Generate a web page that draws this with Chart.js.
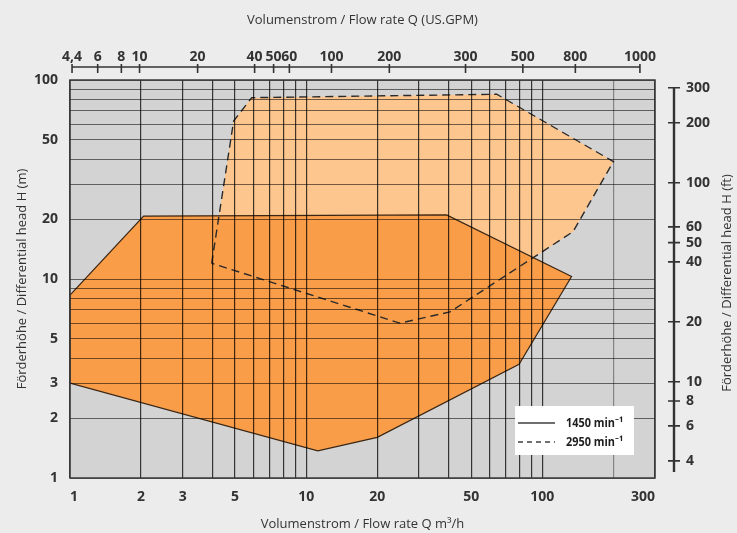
<!DOCTYPE html>
<html>
<head>
<meta charset="utf-8">
<script src="https://cdn.jsdelivr.net/npm/chart.js@4.4.1/dist/chart.umd.min.js"></script>
<style>
html,body{margin:0;padding:0;background:#ececec;}
canvas{display:block;}
</style>
</head>
<body>
<canvas id="c" width="737" height="533"></canvas>
<script>
// ---------------- data ----------------
// Operating envelope at 1450 min^-1 : flow Q (m³/h) and head H (m), polygon vertices
const q1450 = [1.0, 2.05, 39.3, 133, 79.7, 20.0, 11.2, 1.0];
const h1450 = [8.3, 20.7, 21.0, 10.3, 3.73, 1.60, 1.37, 3.0];
// Operating envelope at 2950 min^-1
const q2950 = [3.98, 4.93, 5.88, 64.1, 200, 135, 40.6, 24.9];
const h2950 = [12.0, 62.2, 81.5, 84.8, 38.9, 17.3, 6.83, 6.0];

const seriesLabels = ['1450 min⁻¹', '2950 min⁻¹'];

// bottom axis (m³/h): grid lines and labelled ticks
const xGridValues = [1,2,3,4,5,6,7,8,9,10,20,30,40,50,60,70,80,90,100,200,300];
const xTickLabels = [1,2,3,5,10,20,50,100,300];
// left axis (m)
const yGridValues = [1,2,3,4,5,6,7,8,9,10,20,30,40,50,60,70,80,90,100];
const yTickLabels = [1,2,3,5,10,20,50,100];
// top axis (US GPM): labels and the flow (m³/h) at which each tick sits in the drawing
const gpmTickLabels = ['4,4','6','8','10','20','40','50','60','100','200','300','500','800','1000'];
const gpmTickAtQ    = [1.02, 1.31, 1.65, 1.97, 3.47, 6.05, 7.28, 8.49, 12.8, 22.5, 47.3, 82.7, 138, 259];
// right axis (ft)
const ftTickLabels = [4,6,8,10,20,40,50,60,100,200,300];
const M_TO_FT = 3.28084;

const titleBottom = 'Volumenstrom / Flow rate Q m³/h';
const titleTop = 'Volumenstrom / Flow rate Q (US.GPM)';
const titleLeft = 'Förderhöhe / Differential head H (m)';
const titleRight = 'Förderhöhe / Differential head H (ft)';

// ---------------- chart ----------------
const FONT = "'Open Sans', 'Noto Sans', sans-serif";
Chart.defaults.font.family = FONT;
Chart.defaults.color = '#333';

function pts(q, h) {
  const p = q.map((v, i) => ({x: v, y: h[i]}));
  p.push({x: q[0], y: h[0]});
  return p;
}

const tickFont = {family: FONT, size: 14, weight: 'bold'};
const titleFont = {family: FONT, size: 13, weight: 'normal'};

const decor = {
  id: 'decor',
  beforeDraw(chart) {
    const {ctx, chartArea: a} = chart;
    ctx.save();
    ctx.fillStyle = '#ececec';
    ctx.fillRect(0, 0, chart.width, chart.height);
    ctx.fillStyle = '#d3d3d3';
    ctx.fillRect(a.left, a.top, a.right - a.left, a.bottom - a.top);
    ctx.restore();
  },
  afterDraw(chart) {
    const {ctx, chartArea: a, scales} = chart;
    ctx.save();
    // plot frame
    ctx.strokeStyle = '#3a3a3a';
    ctx.lineWidth = 1.5;
    ctx.strokeRect(a.left, a.top, a.right - a.left, a.bottom - a.top);

    // top (GPM) axis line with ticks
    const top = scales.xTop;
    const yLine = a.top - 13;
    const px = top.ticks.map(t => top.getPixelForValue(t.value));
    ctx.strokeStyle = '#333';
    ctx.lineWidth = 1.6;
    ctx.beginPath();
    ctx.moveTo(px[0], yLine);
    ctx.lineTo(px[px.length - 1], yLine);
    px.forEach(x => { ctx.moveTo(x, yLine - 3); ctx.lineTo(x, yLine + 6); });
    ctx.stroke();

    // right (ft) axis line with ticks
    const r = scales.yRight;
    const xLine = a.right + 19;
    const py = r.ticks.map(t => r.getPixelForValue(t.value));
    ctx.lineWidth = 2.4;
    ctx.beginPath();
    ctx.moveTo(xLine, Math.min(...py));
    ctx.lineTo(xLine, a.bottom - 6);
    ctx.stroke();
    ctx.lineWidth = 1.6;
    ctx.beginPath();
    py.forEach(y => { ctx.moveTo(xLine - 6, y); ctx.lineTo(xLine + 6, y); });
    ctx.stroke();

    // right title (reads bottom to top)
    ctx.save();
    ctx.translate(chart.width - 10, (a.top + a.bottom) / 2 + 4);
    ctx.rotate(-Math.PI / 2);
    ctx.font = '13px ' + FONT;
    ctx.fillStyle = '#333';
    ctx.textAlign = 'center';
    ctx.textBaseline = 'middle';
    ctx.fillText(titleRight, 0, 0);
    ctx.restore();

    // legend box
    const bw = 119, bh = 49;
    const bx = a.right - 140, by = a.bottom - 72;
    ctx.fillStyle = '#ffffff';
    ctx.fillRect(bx, by, bw, bh);
    [0, 1].forEach(i => {
      const ds = chart.data.datasets[i];
      const y = by + 17 + i * 19;
      ctx.strokeStyle = '#6f6f6f';
      ctx.lineWidth = 2;
      ctx.setLineDash(ds.borderDash ? [5, 4] : []);
      ctx.beginPath();
      ctx.moveTo(bx + 3, y);
      ctx.lineTo(bx + 40, y);
      ctx.stroke();
      ctx.setLineDash([]);
      ctx.save();
      ctx.translate(bx + 51, y);
      ctx.scale(0.84, 1);
      ctx.fillStyle = '#1e1e1e';
      ctx.font = "bold 13px " + FONT;
      ctx.textAlign = 'left';
      ctx.textBaseline = 'middle';
      ctx.fillText(ds.label, 0, 0);
      ctx.restore();
    });
    ctx.restore();
  }
};

new Chart(document.getElementById('c'), {
  type: 'line',
  data: {
    datasets: [
      {label: seriesLabels[0], data: pts(q1450, h1450), borderColor: '#3a2614', borderWidth: 1.2,
       fill: false, pointRadius: 0, tension: 0, order: 0},
      {label: seriesLabels[1], data: pts(q2950, h2950), borderColor: '#2a2a2a', borderWidth: 1.4,
       borderDash: [8, 5], fill: false, pointRadius: 0, tension: 0, order: 1},
      {label: '', data: pts(q1450, h1450), backgroundColor: '#f99d48', borderColor: 'transparent',
       borderWidth: 0, fill: 'shape', pointRadius: 0, tension: 0, order: 2},
      {label: '', data: pts(q2950, h2950), backgroundColor: '#fdc68f', borderColor: 'transparent',
       borderWidth: 0, fill: 'shape', pointRadius: 0, tension: 0, order: 3}
    ]
  },
  options: {
    responsive: false,
    animation: false,
    devicePixelRatio: 1,
    layout: {padding: 0},
    plugins: {legend: {display: false}, tooltip: {enabled: false}},
    scales: {
      x: {
        type: 'logarithmic', position: 'bottom', min: 1, max: 300,
        afterBuildTicks: s => { s.ticks = xGridValues.map(v => ({value: v})); },
        afterFit: s => { s.height = 55; },
        grid: {z: 1, drawTicks: false,
               color: c => (c.tick && c.tick.value === 200) ? 'rgba(0,0,0,0.38)' : 'rgba(0,0,0,0.75)',
               lineWidth: 1.2},
        border: {display: false},
        ticks: {autoSkip: false, maxRotation: 0, align: 'inner', padding: 11, color: '#333', font: tickFont,
                callback: v => xTickLabels.includes(v) ? String(v) : ''},
        title: {display: true, text: titleBottom, color: '#333', font: titleFont, padding: {top: 0, bottom: 1}}
      },
      y: {
        type: 'logarithmic', position: 'left', min: 1, max: 100,
        afterBuildTicks: s => { s.ticks = yGridValues.map(v => ({value: v})); },
        afterFit: s => { s.width = 70; },
        grid: {z: 1, drawTicks: false, color: 'rgba(0,0,0,0.55)', lineWidth: 1},
        border: {display: false},
        ticks: {autoSkip: false, padding: 12, color: '#333', font: tickFont,
                callback: v => yTickLabels.includes(v) ? String(v) : ''},
        title: {display: true, text: titleLeft, color: '#333', font: titleFont, padding: {top: 14, bottom: 0}}
      },
      xTop: {
        type: 'logarithmic', position: 'top', min: 1, max: 300,
        afterBuildTicks: s => { s.ticks = gpmTickAtQ.map(v => ({value: v})); },
        afterFit: s => { s.height = 80; },
        grid: {display: false, drawTicks: false},
        border: {display: false},
        ticks: {autoSkip: false, maxRotation: 0, padding: 15, color: '#333', font: tickFont,
                callback: (v, i) => gpmTickLabels[i]},
        title: {display: true, text: titleTop, color: '#333', font: titleFont, padding: {top: 12, bottom: 0}}
      },
      yRight: {
        type: 'logarithmic', position: 'right', min: 1 * M_TO_FT, max: 100 * M_TO_FT,
        afterBuildTicks: s => { s.ticks = ftTickLabels.map(v => ({value: v})); },
        afterFit: s => { s.width = 82; },
        grid: {display: false, drawTicks: false},
        border: {display: false},
        ticks: {autoSkip: false, padding: 31, color: '#333', font: tickFont,
                callback: v => String(v)}
      }
    }
  },
  plugins: [decor]
});
</script>
</body>
</html>
